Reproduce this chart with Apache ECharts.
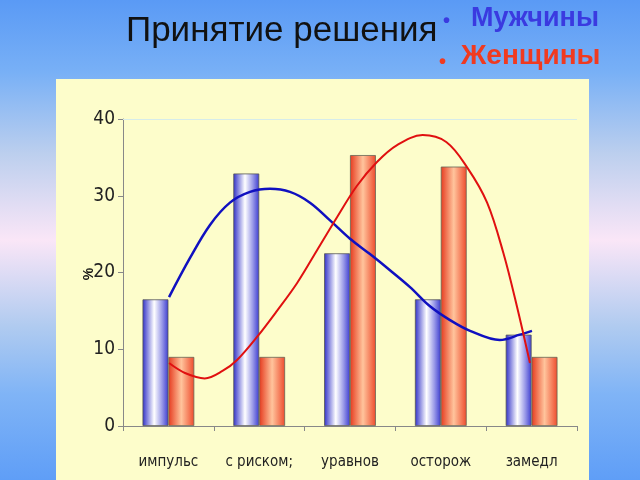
<!DOCTYPE html>
<html><head><meta charset="utf-8">
<script src="https://cdn.jsdelivr.net/npm/echarts@6/dist/echarts.min.js"></script>
<style>html,body{margin:0;padding:0;}#c{width:640px;height:480px;}</style>
</head><body><div id="c"></div>
<script>
const categories = ['импульс', 'с риском;', 'уравнов', 'осторож', 'замедл'];
const menValues = [16.5, 32.9, 22.5, 16.5, 11.9];
const womenValues = [9.0, 9.0, 35.3, 33.8, 9.0];
const yTicks = [0, 10, 20, 30, 40];
// trend curves: [position along category axis (0..5), value %]
const menCurve = [[0.507,16.8],[0.738,21.9],[0.958,26.2],[1.178,29.1],[1.399,30.5],[1.619,30.9],[1.839,30.5],[2.059,29.1],[2.280,26.8],[2.500,24.4],[2.720,22.4],[2.940,20.3],[3.161,18.1],[3.381,15.6],[3.601,13.8],[3.822,12.4],[4.15,11.2],[4.37,11.9],[4.504,12.4]];
const womenCurve = [[0.507,8.2],[0.683,6.9],[0.90,6.2],[1.10,7.2],[1.256,8.6],[1.476,11.6],[1.696,15.0],[1.916,18.6],[2.137,22.9],[2.357,27.2],[2.577,31.3],[2.797,34.4],[3.018,36.6],[3.30,37.9],[3.56,37.0],[3.79,33.7],[4.01,29.1],[4.19,22.5],[4.34,15.5],[4.482,8.2]];
const menName = 'Мужчины', womenName = 'Женщины', title = 'Принятие решения', yName = '%';

const chart = echarts.init(document.getElementById('c'), null, {renderer:'canvas'});
const lg = (stops) => new echarts.graphic.LinearGradient(0,0,1,0, stops.map((c)=>({offset:c[0],color:c[1]})));
const font = '"DejaVu Sans Condensed","Liberation Sans Narrow","Arial Narrow",sans-serif';
const sans = '"Liberation Sans",Arial,sans-serif';
chart.setOption({
  animation:false,
  backgroundColor: new echarts.graphic.LinearGradient(0,0,0,1,[
    {offset:0,color:'#5a9af5'},{offset:0.15,color:'#78b0f6'},{offset:0.32,color:'#bccfee'},
    {offset:0.5,color:'#fae6f7'},{offset:0.68,color:'#b0cbf0'},{offset:0.82,color:'#80b4f6'},{offset:1,color:'#5f9ef7'}]),
  graphic:[
    {type:'rect', z:-10, shape:{x:56,y:79,width:533,height:401}, style:{fill:'#fdfdcb'}},
    {type:'text', left:126, top:14, style:{text:title, font:'35px '+sans, fill:'#111'}},
    {type:'text', left:443, top:11, style:{text:'•', font:'bold 20px '+sans, fill:'#3a3ae0'}},
    {type:'text', left:471, top:5, style:{text:menName, font:'bold 27px '+sans, fill:'#3a3ae0'}},
    {type:'text', left:439, top:52, style:{text:'•', font:'bold 20px '+sans, fill:'#f03a20'}},
    {type:'text', left:461, top:42, style:{text:womenName, font:'bold 28px '+sans, fill:'#f03a20'}},
    {type:'text', x:89, y:274, rotation:Math.PI/2, style:{text:yName, font:'bold 14px '+sans, fill:'#111', align:'center', verticalAlign:'middle'}}
  ],
  grid:{left:123, right:63, top:119, bottom:54},
  xAxis:[
    {type:'category', data:categories, axisLine:{lineStyle:{color:'#888',width:1}},
     axisTick:{show:true, length:5, lineStyle:{color:'#888'}},
     axisLabel:{color:'#222', fontSize:15, fontFamily:font, margin:29}},
    {type:'value', min:0, max:5, show:false}
  ],
  yAxis:{type:'value', min:0, max:40, interval:10,
    axisLine:{show:true, lineStyle:{color:'#888'}}, axisTick:{show:true, length:5, lineStyle:{color:'#888'}},
    axisLabel:{color:'#222', fontSize:19, fontFamily:font, margin:8, formatter:(v)=> yTicks.includes(v)? String(v):''},
    splitLine:{show:false}},
  series:[
    {name:menName, type:'bar', data:menValues, barGap:'0%', barCategoryGap:'43%',
     itemStyle:{color:lg([[0,'#2f2fc8'],[0.45,'#ffffff'],[0.75,'#9a9ae8'],[1,'#3c3cd0']]), borderColor:'#555', borderWidth:0.8},
     markLine:{silent:true, symbol:'none', label:{show:false}, lineStyle:{color:'#d6ecea', type:'solid', width:1}, data:[{yAxis:40}]}},
    {name:womenName, type:'bar', data:womenValues,
     itemStyle:{color:lg([[0,'#e63a1e'],[0.5,'#ffc49c'],[1,'#ee4a2c']]), borderColor:'#665', borderWidth:0.8}},
    {type:'line', xAxisIndex:1, data:menCurve, smooth:0.35, symbol:'none', lineStyle:{color:'#1010c0', width:2.5}, z:5},
    {type:'line', xAxisIndex:1, data:womenCurve, smooth:0.35, symbol:'none', lineStyle:{color:'#e01010', width:2}, z:5}
  ]
});
</script></body></html>
